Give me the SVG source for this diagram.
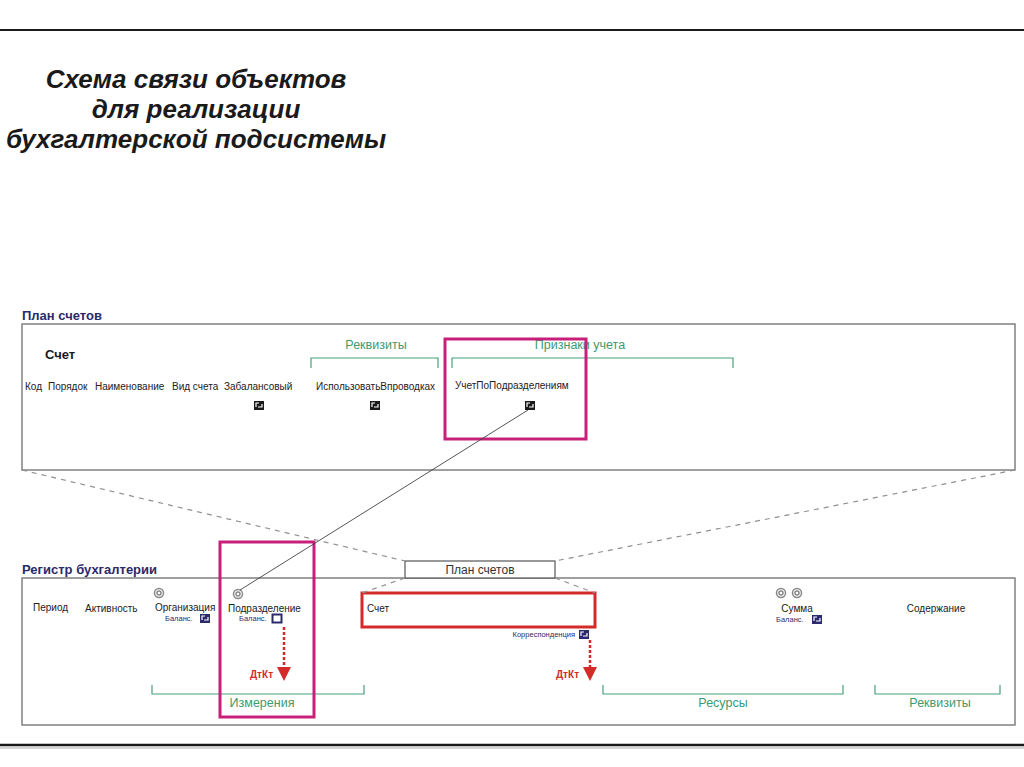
<svg xmlns="http://www.w3.org/2000/svg" width="1024" height="767" viewBox="0 0 1024 767">
<defs>
<style>
text{font-family:"Liberation Sans",Arial,sans-serif}
.title{font-size:26px;font-weight:bold;font-style:italic;fill:#1a1a1a}
.sec{font-size:13px;font-weight:bold;fill:#2b2a6b}
.f{font-size:10px;fill:#222}
.g{font-size:12.5px;fill:#3c9a6e}
.small{font-size:7.5px;fill:#2b2a6b}
.dk{font-size:10px;font-weight:bold;fill:#d42a2a}
.box{fill:none;stroke:#808080;stroke-width:1.5}
.br{fill:none;stroke:#4aa07a;stroke-width:1.2}
.dash{fill:none;stroke:#909090;stroke-width:1.2;stroke-dasharray:5,5}
.mag{fill:none;stroke:#c8207a;stroke-width:3}
.red{fill:none;stroke:#d42a2a;stroke-width:3}
.ring{fill:none;stroke:#888;stroke-width:1.5}
.rdot{stroke:#d42a2a;stroke-width:2.5;stroke-dasharray:3,2}
.head{fill:#d42a2a}
</style>
<g id="icoB"><rect x="0" y="0" width="10" height="9" fill="#1a1a1a"/><path d="M2 6 V2 H5 M4 6 H8 V3" stroke="#fff" stroke-width="1.2" fill="none"/></g>
<g id="icoN"><rect x="0" y="0" width="10" height="9" fill="#2b2a6b"/><path d="M2 6 V2 H5 M4 6 H8 V3" stroke="#fff" stroke-width="1.2" fill="none"/></g>
<g id="ring"><circle cx="0" cy="0" r="4.5" class="ring"/><circle cx="0" cy="0" r="2" class="ring" stroke-width="1"/></g>
</defs>
<rect width="1024" height="767" fill="#fff"/>
<line x1="0" y1="30" x2="1024" y2="30" stroke="#1a1a1a" stroke-width="2"/>
<line x1="0" y1="745" x2="1024" y2="745" stroke="#1a1a1a" stroke-width="2.5"/>
<line x1="0" y1="748" x2="1024" y2="748" stroke="#aaa" stroke-width="1"/>

<g id="title">
<text class="title" x="196" y="88" text-anchor="middle">Схема связи объектов</text>
<text class="title" x="196" y="118" text-anchor="middle">для реализации</text>
<text class="title" x="196" y="148" text-anchor="middle">бухгалтерской подсистемы</text>
</g>

<g id="plan">
<text class="sec" x="22" y="320">План счетов</text>
<rect class="box" x="22" y="324" width="993" height="146"/>
<text x="45" y="359" font-size="13" font-weight="bold" fill="#1a1a1a">Счет</text>
<text class="f" x="25" y="390">Код</text>
<text class="f" x="48" y="390">Порядок</text>
<text class="f" x="95" y="390">Наименование</text>
<text class="f" x="172" y="390">Вид счета</text>
<text class="f" x="224" y="390">Забалансовый</text>
<use href="#icoB" x="254" y="401"/>
<text class="g" x="376" y="349" text-anchor="middle">Реквизиты</text>
<path class="br" d="M311 368 V358 H438 V368"/>
<text class="f" x="316" y="390">ИспользоватьВпроводках</text>
<use href="#icoB" x="370" y="401"/>
<text class="g" x="580" y="349" text-anchor="middle">Признаки учета</text>
<path class="br" d="M452 368 V358 H733 V368"/>
<text class="f" x="455" y="389">УчетПоПодразделениям</text>
<use href="#icoB" x="525" y="401"/>
<rect class="mag" x="445" y="339" width="141" height="100"/>
</g>

<g id="register">
<text class="sec" x="22" y="574">Регистр бухгалтерии</text>
<rect class="box" x="22" y="578" width="993" height="147"/>
<text class="f" x="33" y="611">Период</text>
<text class="f" x="85" y="612">Активность</text>
<use href="#ring" x="159" y="593"/>
<text class="f" x="155" y="611">Организация</text>
<text class="small" x="165" y="621">Баланс.</text>
<use href="#icoN" x="200" y="614"/>
<use href="#ring" x="238" y="594"/>
<text class="f" x="228" y="612">Подразделение</text>
<text class="small" x="239" y="621">Баланс.</text>
<rect x="272.5" y="614.5" width="9" height="8" fill="#fff" stroke="#2b2a6b" stroke-width="2"/>
<text class="dk" x="250" y="678">ДтКт</text>
<rect class="red" x="362" y="593" width="233" height="34"/>
<text class="f" x="367" y="612">Счет</text>
<text class="small" x="575" y="637" text-anchor="end">Корреспонденция</text>
<use href="#icoN" x="579" y="630"/>
<text class="dk" x="556" y="678">ДтКт</text>
<use href="#ring" x="781" y="593"/>
<use href="#ring" x="797" y="593"/>
<text class="f" x="797" y="612" text-anchor="middle">Сумма</text>
<text class="small" x="776" y="622">Баланс.</text>
<use href="#icoN" x="812" y="615"/>
<text class="f" x="936" y="612" text-anchor="middle">Содержание</text>
<path class="br" d="M152 685 V694 H364 V685"/>
<text class="g" x="262" y="707" text-anchor="middle">Измерения</text>
<path class="br" d="M603 685 V694 H843 V685"/>
<text class="g" x="723" y="707" text-anchor="middle">Ресурсы</text>
<path class="br" d="M875 685 V694 H1000 V685"/>
<text class="g" x="940" y="707" text-anchor="middle">Реквизиты</text>
<rect class="mag" x="220" y="542" width="94" height="175"/>
</g>

<g id="plan-ref">
<rect x="405" y="561" width="150" height="17" fill="#fff" stroke="#555" stroke-width="1.2"/>
<text x="480" y="574" font-size="12" fill="#333" text-anchor="middle">План счетов</text>
</g>

<g id="connectors">
<line x1="528" y1="410" x2="240" y2="590" stroke="#444" stroke-width="0.9"/>
<line class="dash" x1="22" y1="470" x2="405" y2="561"/>
<line class="dash" x1="1015" y1="470" x2="555" y2="561"/>
<line class="dash" x1="405" y1="578" x2="362" y2="593"/>
<line class="dash" x1="555" y1="578" x2="595" y2="593"/>
<line class="rdot" x1="284" y1="627" x2="284" y2="668"/>
<polygon class="head" points="277,667 291,667 284,681"/>
<line class="rdot" x1="590" y1="640" x2="590" y2="668"/>
<polygon class="head" points="583,667 597,667 590,681"/>
</g>
</svg>
